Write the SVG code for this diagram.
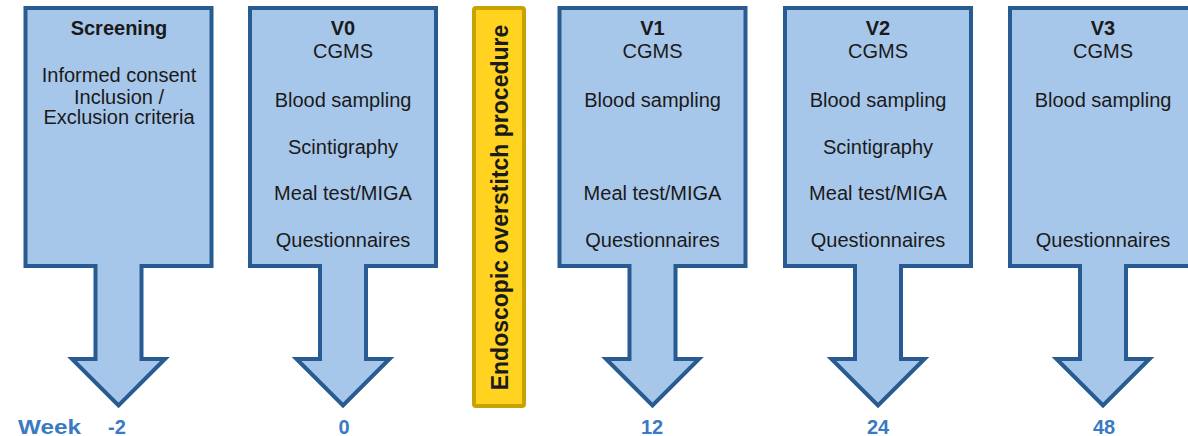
<svg xmlns="http://www.w3.org/2000/svg" width="1188" height="436" viewBox="0 0 1188 436">
  <style>
    .box { fill: #A7C7EA; stroke: #275B92; stroke-width: 4; stroke-linejoin: miter; }
    .bar { fill: #FFD320; stroke: #C9A200; stroke-width: 4; }
    .t { font-family: "Liberation Sans", Arial, sans-serif; font-size: 20px; fill: #1A1A1A; text-anchor: middle; }
    .b { font-weight: bold; }
    .vt { font-family: "Liberation Sans", Arial, sans-serif; font-size: 23px; font-weight: bold; fill: #1A1A1A; text-anchor: middle; }
    .wk { font-family: "Liberation Sans", Arial, sans-serif; font-size: 20px; font-weight: bold; fill: #3A7AC2; text-anchor: middle; }
  </style>
  <defs>
    <path id="blk" d="M -93 8 H 93 V 266 H 23 V 359 H 46.5 L 0 405.5 L -46.5 359 H -23 V 266 H -93 Z"/>
  </defs>

  <g id="screening">
    <use href="#blk" class="box" transform="translate(118.5,0)"/>
    <text class="t b" x="119" y="35">Screening</text>
    <text class="t" x="119" y="82">Informed consent</text>
    <text class="t" x="119" y="103.5">Inclusion /</text>
    <text class="t" x="119" y="124">Exclusion criteria</text>
  </g>

  <g id="v0">
    <use href="#blk" class="box" transform="translate(343,0)"/>
    <text class="t b" x="343" y="35">V0</text>
    <text class="t" x="343" y="57.5">CGMS</text>
    <text class="t" x="343" y="107">Blood sampling</text>
    <text class="t" x="343" y="154">Scintigraphy</text>
    <text class="t" x="343" y="200">Meal test/MIGA</text>
    <text class="t" x="343" y="247">Questionnaires</text>
  </g>

  <g id="procedure">
    <rect class="bar" x="474" y="8" width="50" height="398" rx="2"/>
    <text class="vt" transform="translate(508,207.5) rotate(-90)">Endoscopic overstitch procedure</text>
  </g>

  <g id="v1">
    <use href="#blk" class="box" transform="translate(652.5,0)"/>
    <text class="t b" x="652.5" y="35">V1</text>
    <text class="t" x="652.5" y="57.5">CGMS</text>
    <text class="t" x="652.5" y="107">Blood sampling</text>
    <text class="t" x="652.5" y="200">Meal test/MIGA</text>
    <text class="t" x="652.5" y="247">Questionnaires</text>
  </g>

  <g id="v2">
    <use href="#blk" class="box" transform="translate(878,0)"/>
    <text class="t b" x="878" y="35">V2</text>
    <text class="t" x="878" y="57.5">CGMS</text>
    <text class="t" x="878" y="107">Blood sampling</text>
    <text class="t" x="878" y="154">Scintigraphy</text>
    <text class="t" x="878" y="200">Meal test/MIGA</text>
    <text class="t" x="878" y="247">Questionnaires</text>
  </g>

  <g id="v3">
    <use href="#blk" class="box" transform="translate(1103,0)"/>
    <text class="t b" x="1103" y="35">V3</text>
    <text class="t" x="1103" y="57.5">CGMS</text>
    <text class="t" x="1103" y="107">Blood sampling</text>
    <text class="t" x="1103" y="247">Questionnaires</text>
  </g>

  <g id="week-axis">
    <text class="wk" x="18" y="434" style="text-anchor:start" textLength="63" lengthAdjust="spacingAndGlyphs">Week</text>
    <text class="wk" x="117" y="434">-2</text>
    <text class="wk" x="344" y="434">0</text>
    <text class="wk" x="652" y="434">12</text>
    <text class="wk" x="878" y="434">24</text>
    <text class="wk" x="1104" y="434">48</text>
  </g>
</svg>
